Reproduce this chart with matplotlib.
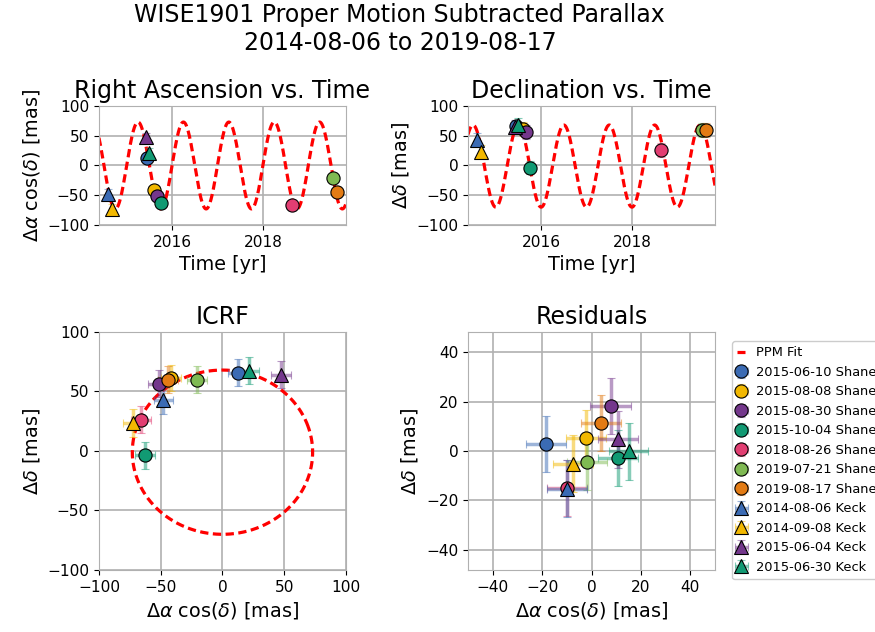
import datetime as dt
import matplotlib
matplotlib.use("Agg")
import matplotlib.pyplot as plt
import numpy as np

# observation epochs (Shane first, then Keck) and labels
dates = ["2015-06-10", "2015-08-08", "2015-08-30", "2015-10-04", "2018-08-26",
         "2019-07-21", "2019-08-17", "2014-08-06", "2014-09-08", "2015-06-04",
         "2015-06-30"]
telescopes = ["Shane"] * 7 + ["Keck"] * 4
colors = ["#3b6bb4", "#f2b800", "#74378c", "#119a73", "#e23e72",
          "#7fba52", "#e37b14", "#3b6bb4", "#f2b800", "#74378c", "#119a73"]
markers = ["o"] * 7 + ["^"] * 4

# proper-motion subtracted offsets [mas]
ra_off = [12.2, -41.6, -51.6, -62.5, -66.0, -20.4, -44.0, -47.8, -72.8, 47.3, 21.7]
dec_off = [65.6, 61.4, 56.4, -3.6, 26.3, 59.8, 59.8, 42.5, 23.5, 64.2, 67.6]
ra_err = [8.1, 8.1, 8.4, 8.2, 8.0, 8.2, 8.2, 8.0, 8.0, 8.0, 8.0]
dec_err = [11.4, 11.2, 11.4, 11.4, 11.4, 11.4, 11.4, 11.5, 11.5, 11.5, 11.5]

# residuals from the fit [mas]
ra_res = [-18.6, -2.2, 7.7, 10.8, -10.0, -1.8, 3.9, -10.0, -7.6, 10.7, 15.0]
dec_res = [2.8, 5.3, 18.4, -2.8, -15.0, -4.5, 11.3, -15.3, -5.1, 4.7, -0.1]

# PPM fit parameters (parallax ellipse) [mas]
FIT_RA_AMP = 73.0
FIT_DEC_AMP = 69.0
FIT_DEC_OFFSET = -1.0
FIT_START, FIT_END = 2014.3, 2019.9


def decimal_year(s):
    d = dt.datetime.strptime(s, "%Y-%m-%d")
    start = dt.datetime(d.year, 1, 1)
    end = dt.datetime(d.year + 1, 1, 1)
    return d.year + (d - start).total_seconds() / (end - start).total_seconds()


def ppm_model(t):
    phase = 2 * np.pi * (t - np.floor(t))
    return (FIT_RA_AMP * np.sin(phase),
            -FIT_DEC_AMP * np.cos(phase) + FIT_DEC_OFFSET)


def fade_bars(container, alpha=0.5):
    _, caps, bars = container
    for c in caps:
        c.set_alpha(alpha)
    for b in bars:
        b.set_alpha(alpha)


times = [decimal_year(d) for d in dates]

t_fit = np.linspace(FIT_START, FIT_END, 2000)
ra_fit, dec_fit = ppm_model(t_fit)
# one full orbit is enough for the sky-plane ellipse
t_loop = np.linspace(FIT_START, FIT_START + 1.0, 500)
ra_loop, dec_loop = ppm_model(t_loop)

plt.rcParams["font.family"] = "DejaVu Sans"
plt.rcParams["axes.edgecolor"] = "#b0b0b0"
plt.rcParams["grid.color"] = "#b0b0b0"
plt.rcParams["grid.linewidth"] = 1.2
plt.rcParams["xtick.labelsize"] = 11.1
plt.rcParams["ytick.labelsize"] = 11.1
plt.rcParams["axes.labelsize"] = 13.9
plt.rcParams["axes.titlesize"] = 17

fig = plt.figure(figsize=(8.75, 6.32), dpi=100)
ax_ra = fig.add_axes([0.1131, 0.644, 0.2823, 0.1883])
ax_dec = fig.add_axes([0.5349, 0.644, 0.2823, 0.1883])
ax_sky = fig.add_axes([0.1131, 0.0981, 0.2823, 0.3766])
ax_res = fig.add_axes([0.5349, 0.0981, 0.2823, 0.3766])

fig.suptitle("WISE1901 Proper Motion Subtracted Parallax\n2014-08-06 to 2019-08-17",
             fontsize=17, x=0.457, y=0.995, va="top")

fit_style = dict(color="red", ls=(0, (2.6, 1.4)), lw=2.3, zorder=2)
err_style = dict(elinewidth=2.5, capsize=3, capthick=1.8)

ax_ra.plot(t_fit, ra_fit, **fit_style)
ax_dec.plot(t_fit, dec_fit, **fit_style)
fit_line, = ax_sky.plot(ra_loop, dec_loop, label="PPM Fit", **fit_style)

handles = [fit_line]
for i in range(len(dates)):
    mk = dict(marker=markers[i], ms=9.5, mfc=colors[i], mec="black", mew=0.8,
              ls="none", ecolor=colors[i], zorder=3)
    fade_bars(ax_ra.errorbar(times[i], ra_off[i], yerr=ra_err[i], **mk, **err_style))
    fade_bars(ax_dec.errorbar(times[i], dec_off[i], yerr=dec_err[i], **mk, **err_style))
    h = ax_sky.errorbar(ra_off[i], dec_off[i], xerr=ra_err[i], yerr=dec_err[i],
                        label=f"{dates[i]} {telescopes[i]}", **mk, **err_style)
    fade_bars(h)
    fade_bars(ax_res.errorbar(ra_res[i], dec_res[i], xerr=ra_err[i], yerr=dec_err[i],
                              **mk, **err_style))
    handles.append(h)

ra_label = r"$\Delta\alpha$ cos($\delta$) [mas]"
dec_label = r"$\Delta\delta$ [mas]"

for ax, title, ylab in [(ax_ra, "Right Ascension vs. Time", ra_label),
                        (ax_dec, "Declination vs. Time", dec_label)]:
    ax.set_xlim(2014.39, 2019.83)
    ax.set_ylim(-100, 100)
    ax.set_xticks([2016, 2018])
    ax.set_yticks([-100, -50, 0, 50, 100])
    ax.set_xlabel("Time [yr]")
    ax.set_ylabel(ylab)
    ax.set_title(title)

ax_sky.set_xlim(-100, 100)
ax_sky.set_ylim(-100, 100)
ax_sky.set_xticks([-100, -50, 0, 50, 100])
ax_sky.set_yticks([-100, -50, 0, 50, 100])
ax_sky.set_title("ICRF")

ax_res.set_xlim(-50, 50)
ax_res.set_ylim(-48.3, 48.3)
ax_res.set_xticks([-40, -20, 0, 20, 40])
ax_res.set_yticks([-40, -20, 0, 20, 40])
ax_res.set_title("Residuals")

for ax in [ax_sky, ax_res]:
    ax.set_xlabel(ra_label)
    ax.set_ylabel(dec_label)

for ax in [ax_ra, ax_dec, ax_sky, ax_res]:
    ax.grid(True, zorder=0)
    ax.set_axisbelow(True)
    ax.tick_params(color="black")

fig.legend(handles=handles, loc="upper left", bbox_to_anchor=(0.8366, 0.4605),
           fontsize=9.4, handlelength=0.6, borderaxespad=0.0, framealpha=1.0)

plt.savefig("out.png", dpi=100)
